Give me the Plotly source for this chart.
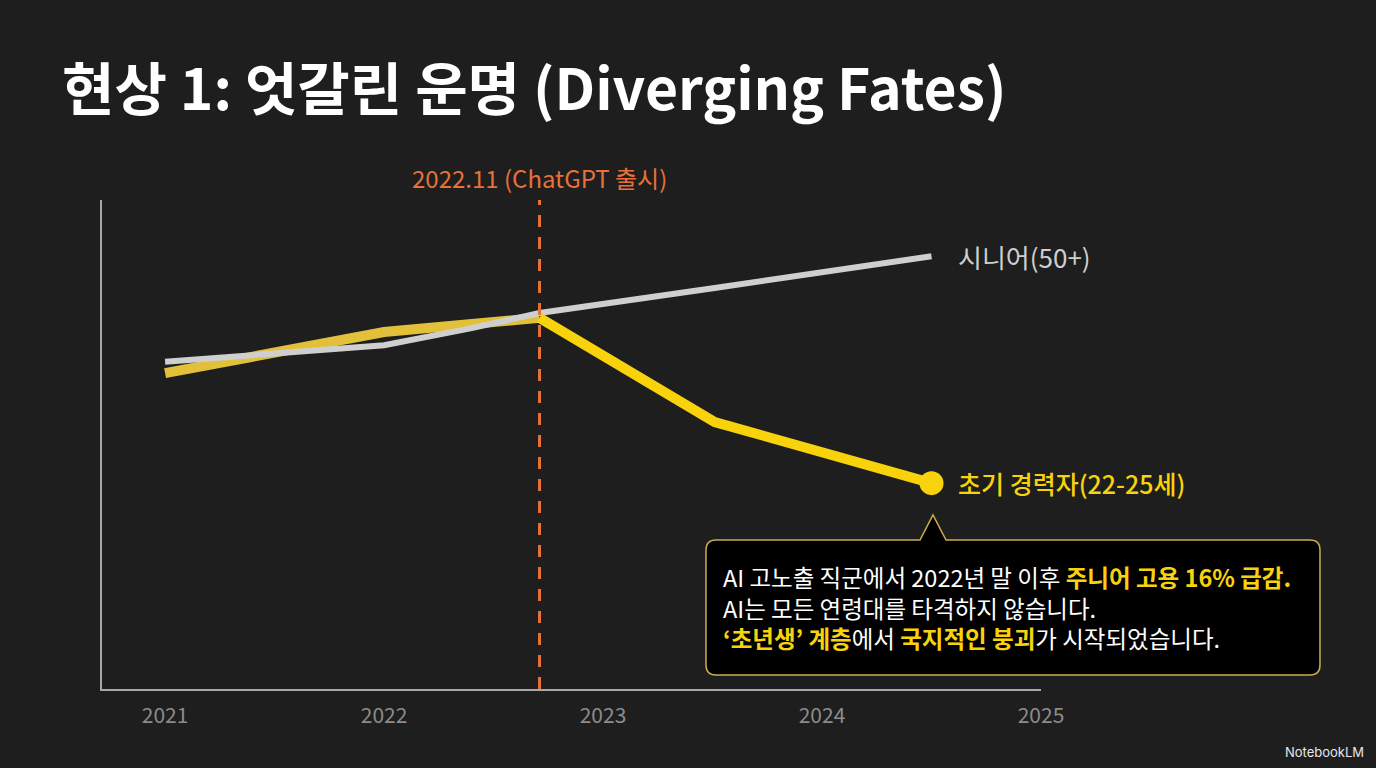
import plotly.graph_objects as go

# employment index (arbitrary scale)
senior_x = [2021, 2022, 2022.4, 2022.71, 2023.51, 2024.5]
senior_y = [66.9, 70.3, 73.8, 76.9, 82.0, 88.5]
junior_x = [2021, 2022, 2022.71, 2023.51, 2024.5]
junior_y = [64.6, 73.0, 75.9, 54.6, 42.1]
launch_x = 2022.71
year_ticks = [2021, 2022, 2023, 2024, 2025]

FONT = "Noto Sans CJK KR"
BG = "#1e1e1e"
YELLOW = "#f8d30c"
GOLD = "#e2c03a"
GRAY = "#cfcfcf"
ORANGE = "#e8703a"

# pixel -> paper helpers (plot area is 102..1041 x 200..689)
def px(x):
    return (x - 102) / 939

def py(y):
    return (689 - y) / 489

fig = go.Figure()

# junior line before the launch (a bit dimmer)
k = junior_x.index(launch_x)
fig.add_trace(go.Scatter(x=junior_x[:k + 1], y=junior_y[:k + 1], mode="lines",
                         line=dict(color=GOLD, width=10), hoverinfo="skip"))
fig.add_trace(go.Scatter(x=senior_x, y=senior_y, mode="lines",
                         line=dict(color=GRAY, width=6), hoverinfo="skip"))
fig.add_trace(go.Scatter(x=junior_x[k:], y=junior_y[k:], mode="lines",
                         line=dict(color=YELLOW, width=10), hoverinfo="skip"))
fig.add_trace(go.Scatter(x=[junior_x[-1]], y=[junior_y[-1]], mode="markers",
                         marker=dict(color=YELLOW, size=24), hoverinfo="skip"))

# ChatGPT launch marker
fig.add_shape(type="line", xref="x", yref="paper", x0=launch_x, x1=launch_x, y0=0, y1=1,
              line=dict(color=ORANGE, width=3, dash="12px,10px"), layer="above")
fig.add_annotation(x=launch_x, xref="x", y=py(178), yref="paper", yanchor="middle",
                   text="2022.11 (ChatGPT 출시)",
                   showarrow=False, font=dict(family=FONT, size=24, color=ORANGE))

# end labels
fig.add_annotation(x=senior_x[-1], y=senior_y[-1], text="시니어(50+)", showarrow=False,
                   xanchor="left", xshift=24, font=dict(family=FONT, size=26, color=GRAY))
fig.add_annotation(x=junior_x[-1], y=junior_y[-1], text="초기 경력자(22-25세)", showarrow=False,
                   xanchor="left", xshift=24,
                   font=dict(family=FONT, size=25, color=YELLOW, weight=500))

# callout box with pointer
L, R, T, B = 706, 1320, 540, 675
r = 10
ax, ay, bl, br = 933, 515, 920, 946
pts = [
    ("M", L + r, T), ("L", bl, T), ("L", ax, ay), ("L", br, T), ("L", R - r, T),
    ("Q", R, T, R, T + r), ("L", R, B - r), ("Q", R, B, R - r, B), ("L", L + r, B),
    ("Q", L, B, L, B - r), ("L", L, T + r), ("Q", L, T, L + r, T),
]
path = ""
for p in pts:
    cmd, vals = p[0], p[1:]
    coords = []
    for i in range(0, len(vals), 2):
        coords.append("%.5f,%.5f" % (px(vals[i]), py(vals[i + 1])))
    path += cmd + " " + " ".join(coords) + " "
fig.add_shape(type="path", xref="paper", yref="paper", path=path + "Z",
              fillcolor="#000000", line=dict(color="#c9ad4a", width=1.5), layer="above")

box_lines = [
    "AI 고노출 직군에서 2022년 말 이후 <span style='color:%s'><b>주니어 고용 16%% 급감.</b></span>" % YELLOW,
    "AI는 모든 연령대를 타격하지 않습니다.",
    "<span style='color:%s'><b>‘초년생’ 계층</b></span>에서 <span style='color:%s'><b>국지적인 붕괴</b></span>가 시작되었습니다." % (YELLOW, YELLOW),
]
fig.add_annotation(x=px(721), y=py(607), xref="paper", yref="paper", text="<br>".join(box_lines),
                   showarrow=False, xanchor="left", yanchor="middle", align="left",
                   font=dict(family=FONT, size=23.5, color="#ffffff"))

# title and watermark
fig.add_annotation(x=px(60), y=py(85), xref="paper", yref="paper",
                   text="<b>현상 1: 엇갈린 운명 (Diverging Fates)</b>", showarrow=False,
                   xanchor="left", yanchor="middle", font=dict(family=FONT, size=57, color="#ffffff"))
fig.add_annotation(x=px(1366), y=py(752), xref="paper", yref="paper", text="NotebookLM",
                   showarrow=False, xanchor="right", yanchor="middle",
                   font=dict(family="Inter", size=13, color="#e8e8e8"))

fig.update_xaxes(range=[2020.712, 2025], tickvals=year_ticks, ticktext=[str(v) for v in year_ticks],
                 showgrid=False, zeroline=False, showline=True, linecolor="#a8a8a8", linewidth=2,
                 ticks="", ticklabelstandoff=7,
                 tickfont=dict(family=FONT, size=21, color="#8c8c8c"))
fig.update_yaxes(range=[0, 100], showgrid=False, zeroline=False, showline=True,
                 linecolor="#a8a8a8", linewidth=2, showticklabels=False, ticks="")
fig.update_layout(width=1376, height=768, showlegend=False,
                  paper_bgcolor=BG, plot_bgcolor=BG,
                  margin=dict(l=102, r=335, t=200, b=79))

fig.write_html("out.html", config={"displayModeBar": False},
               post_script="document.body.style.margin='0';")
